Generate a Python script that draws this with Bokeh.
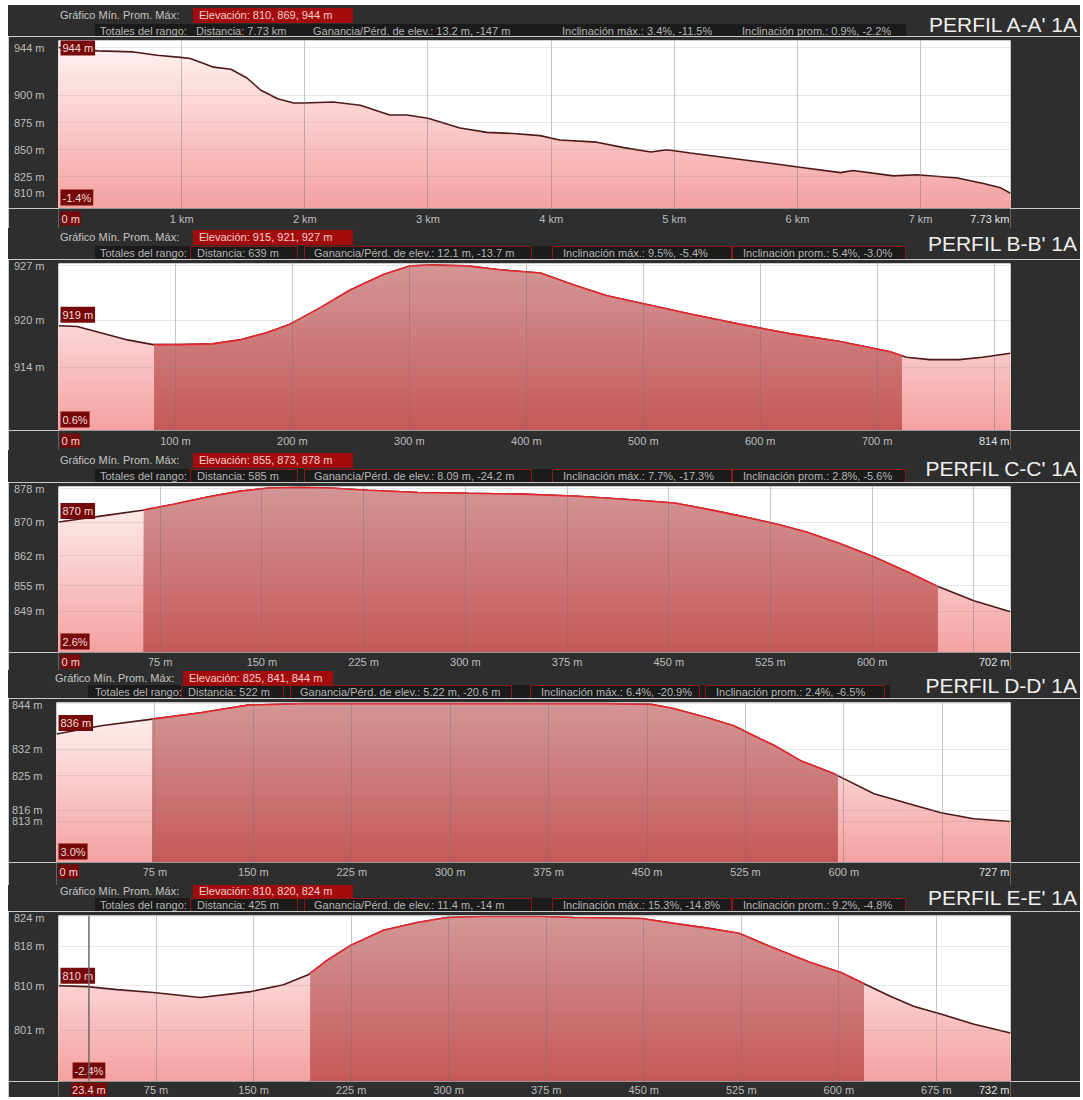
import numpy as np
from bokeh.plotting import figure
from bokeh.models import Range1d, FixedTicker, Label, Span, CustomJSTickFormatter, Div
from bokeh.core.properties import value
from bokeh.layouts import column
from bokeh.embed import file_html
from bokeh.resources import INLINE

FONT = "Liberation Sans"

# ---------------- data ----------------
# Perfil A-A' (distance in km)
a_dist = [0.00, 0.32, 0.61, 0.80, 0.99, 1.07, 1.26, 1.40, 1.53, 1.64, 1.78, 1.91, 1.99,
          2.23, 2.45, 2.69, 2.83, 3.00, 3.26, 3.48, 3.69, 3.91, 4.07, 4.37, 4.59, 4.81,
          4.94, 5.13, 5.54, 5.75, 6.02, 6.35, 6.45, 6.78, 6.97, 7.30, 7.51, 7.65, 7.73]
a_elev = [944, 941, 940, 937, 935, 934, 926, 924, 916, 905, 897, 893, 893,
          894, 891, 882, 882, 879, 870, 866, 865, 863, 859, 857, 852, 848,
          850, 847, 841, 838, 834, 829, 831, 826, 827, 824, 819, 815, 810]
a_yticks = [944, 900, 875, 850, 825, 810]

# Perfil B-B' (distance in m)
b_dist = [0, 16, 36, 59, 81, 104, 132, 155, 178, 198, 224, 249, 278, 301, 320, 349,
          377, 412, 440, 469, 506, 540, 582, 625, 668, 711, 725, 745, 770, 790, 814]
b_elev = [919.3, 919.2, 918.4, 917.5, 916.9, 916.9, 917.0, 917.5, 918.4, 919.5, 921.6,
          923.8, 925.8, 926.9, 927.0, 926.9, 926.4, 926.0, 924.5, 923.1, 921.9, 920.8,
          919.5, 918.3, 917.3, 916.0, 915.3, 915.0, 915.0, 915.3, 915.8]
b_yticks = [927, 920, 914]

# Perfil C-C'
c_dist = [0, 31, 62, 85, 110, 134, 154, 178, 203, 228, 265, 302, 342, 383, 417, 454,
          479, 503, 530, 552, 577, 601, 626, 649, 675, 702]
c_elev = [870, 871.4, 872.8, 874.2, 875.9, 877.3, 878.0, 878.2, 878.0, 877.5, 877.0,
          876.8, 876.6, 876.1, 875.4, 874.5, 873.0, 871.4, 869.5, 867.6, 864.8, 861.8,
          858.2, 854.7, 851.4, 848.8]
c_yticks = [878, 870, 862, 855, 849]

# Perfil D-D'
d_dist = [0, 34, 70, 110, 146, 187, 238, 288, 356, 420, 453, 470, 496, 516, 531, 547,
          567, 592, 598, 623, 649, 674, 699, 727]
d_elev = [836, 838.2, 839.8, 841.6, 843.6, 844, 844, 844, 844, 844, 843.8, 842.7, 840.3,
          838.2, 835.6, 833, 829, 825.6, 824.6, 820.3, 817.7, 815.3, 813.7, 813]
d_yticks = [844, 832, 825, 816, 813]

# Perfil E-E'
e_dist = [0, 22, 45, 73, 109, 148, 173, 192, 207, 225, 250, 276, 299, 327, 357, 371,
          396, 448, 473, 500, 523, 550, 577, 602, 621, 640, 658, 679, 704, 732]
e_elev = [810, 809.8, 809.2, 808.6, 807.6, 808.8, 810.2, 812.2, 815.2, 818.2, 821.2,
          822.8, 823.8, 824, 824, 824, 823.8, 823.6, 822.6, 821.6, 820.6, 817.6, 814.8,
          812.6, 810.2, 807.8, 805.8, 804.2, 802.2, 800.4]
e_yticks = [824, 818, 810, 801]

titles = ["PERFIL A-A' 1A", "PERFIL B-B' 1A", "PERFIL C-C' 1A", "PERFIL D-D' 1A", "PERFIL E-E' 1A"]
elev_stats = ["Elevación: 810, 869, 944 m", "Elevación: 915, 921, 927 m",
              "Elevación: 855, 873, 878 m", "Elevación: 825, 841, 844 m",
              "Elevación: 810, 820, 824 m"]
distance_stats = ["Distancia: 7.73 km", "Distancia: 639 m", "Distancia: 585 m",
                  "Distancia: 522 m", "Distancia: 425 m"]
gain_stats = ["Ganancia/Pérd. de elev.: 13.2 m, -147 m", "Ganancia/Pérd. de elev.: 12.1 m, -13.7 m",
              "Ganancia/Pérd. de elev.: 8.09 m, -24.2 m", "Ganancia/Pérd. de elev.: 5.22 m, -20.6 m",
              "Ganancia/Pérd. de elev.: 11.4 m, -14 m"]
max_slope_stats = ["Inclinación máx.: 3.4%, -11.5%", "Inclinación máx.: 9.5%, -5.4%",
                   "Inclinación máx.: 7.7%, -17.3%", "Inclinación máx.: 6.4%, -20.9%",
                   "Inclinación máx.: 15.3%, -14.8%"]
avg_slope_stats = ["Inclinación prom.: 0.9%, -2.2%", "Inclinación prom.: 5.4%, -3.0%",
                   "Inclinación prom.: 2.8%, -5.6%", "Inclinación prom.: 2.4%, -6.5%",
                   "Inclinación prom.: 9.2%, -4.8%"]
selections = [None, (82, 721), (63, 648), (73, 595), (194, 619)]
cursors = [0, 0, 0, 0, 23.4]
cursor_slopes = ["-1.4%", "0.6%", "2.6%", "3.0%", "-2.4%"]
x_steps = [1, 100, 75, 75, 75]
x_hidden = [[], [800], [675], [675], []]
x_units = ["km", "m", "m", "m", "m"]
y_ranges = [(796, 950.5), (906, 927.2), (839.2, 878.4), (802.2, 844.3), (790.6, 824.2)]

# ---------------- style / layout ----------------
W = 1072
BG = "#2e2e2e"
LIGHT_TOP, LIGHT_BOT = "#fff3f3", "#f5a2a2"
DARK_TOP, DARK_BOT = "#d39595", "#c65a5a"
FSZ = 11
FS = "11px"
BT = 4            # small border above each plot frame
FRAME_RIGHT = 1002
# (header_h, plot_h, footer_h, footer_label_y, border_left, row1_y, row2_y, title_y)
geoms = [(31, 168, 20, 10, 50, 10, 26, 20),
         (31, 167, 20, 10, 50, 9, 25, 16),
         (32, 166, 18, 9, 50, 10, 26, 19),
         (28, 160, 23, 9, 47, 8, 22, 16),
         (26, 166, 16, 8, 50, 6, 20, 13)]
# header item x positions: grafico, elev box (left, width), bar (left, right), totales,
# distance box, gain box, max slope box, avg slope box  (left, width)
hdr_default = dict(graf=52, elev=(185, 160), bar=(87, 897), tot=92,
                   dist=(182, 108), gain=(296, 228), smax=(544, 180), sprom=(724, 174))
hdr_d = dict(graf=47, elev=(175, 150), bar=(80, 882), tot=87,
             dist=(173, 103), gain=(282, 222), smax=(522, 170), sprom=(697, 180))


def mix(c1, c2, t):
    a = [int(c1[i:i + 2], 16) for i in (1, 3, 5)]
    b = [int(c2[i:i + 2], 16) for i in (1, 3, 5)]
    return "#%02x%02x%02x" % tuple(round(a[i] + (b[i] - a[i]) * t) for i in range(3))


def gradient_area(p, x, y, lo, hi, c_top, c_bot, n=24):
    x = np.asarray(x, float)
    y = np.asarray(y, float)
    for k in range(n):
        lev = hi - (hi - lo) * k / n
        p.varea(x=x, y1=np.full_like(y, lo), y2=np.minimum(y, lev),
                fill_color=mix(c_top, c_bot, k / (n - 1)))


def subset(x, y, a, b):
    x = np.asarray(x, float)
    y = np.asarray(y, float)
    m = (x > a) & (x < b)
    xs = np.concatenate([[a], x[m], [b]])
    ys = np.concatenate([[np.interp(a, x, y)], y[m], [np.interp(b, x, y)]])
    return xs, ys


def item(text, cy, left=None, right=None, width=None, h=14, color="#c4c4c4", bg=None,
         border=None, size=FSZ, pad="0 0 0 6px"):
    lh = h - 2 if border else h
    st = (f"position:absolute;top:{cy - h / 2}px;height:{h}px;line-height:{lh}px;"
          f"white-space:nowrap;color:{color};font-size:{size}px;padding:{pad};"
          f"box-sizing:border-box;overflow:hidden;")
    if left is not None:
        st += f"left:{left}px;"
    if right is not None:
        st += f"right:{right}px;"
    if width is not None:
        st += f"width:{width}px;"
    if bg:
        st += f"background:{bg};"
    if border:
        st += f"border:1px solid {border};"
    return f'<div style="{st}">{text}</div>'


def header_div(i, hh, r1, r2, ty):
    H = hdr_d if i == 3 else hdr_default
    rb = None if i == 0 else "#8e1616"
    parts = [
        item("", r2, left=H["bar"][0], width=H["bar"][1] - H["bar"][0], bg="#1b1b1b"),
        item("Gráfico Mín. Prom. Máx:", r1, left=H["graf"], pad="0"),
        item(elev_stats[i], r1, left=H["elev"][0], width=H["elev"][1], bg="#a30c0c",
             color="#f6cccc", h=15),
        item("Totales del rango:", r2, left=H["tot"], pad="0", color="#b4b4b4"),
        item(distance_stats[i], r2, left=H["dist"][0], width=H["dist"][1], bg="#1b1b1b",
             border=rb, color="#b4b4b4"),
        item(gain_stats[i], r2, left=H["gain"][0], width=H["gain"][1], bg="#1b1b1b",
             border=rb, color="#b4b4b4", pad="0 0 0 9px"),
        item(max_slope_stats[i], r2, left=H["smax"][0], width=H["smax"][1], bg="#1b1b1b",
             border=rb, color="#b4b4b4", pad="0 0 0 10px"),
        item(avg_slope_stats[i], r2, left=H["sprom"][0], width=H["sprom"][1], bg="#1b1b1b",
             border=rb, color="#b4b4b4", pad="0 0 0 10px"),
        item(titles[i], ty, right=3, h=24, size=21, color="#efefef", pad="0"),
    ]
    html = (f'<div style="position:relative;width:{W}px;height:{hh}px;background:{BG};'
            f'overflow:hidden;font-family:\'{FONT}\';">' + "".join(parts) + "</div>")
    return Div(text=html, width=W, height=hh, margin=0)


def make_panel(i, dist, elev, yticks):
    hh, ph, fh, fy, left, r1, r2, ty = geoms[i]
    lo, hi = y_ranges[i]
    xmax = dist[-1]
    xr = Range1d(0, xmax)
    common = dict(width=W, output_backend="svg", toolbar_location=None,
                  border_fill_color=BG, outline_line_color=None)

    hd = header_div(i, hh, r1, r2, ty)

    # ---- profile plot ----
    p = figure(height=ph + BT, x_range=xr, y_range=Range1d(lo, hi),
               min_border_left=left, min_border_right=W - FRAME_RIGHT,
               min_border_top=BT, min_border_bottom=0,
               background_fill_color="white", **common)
    gradient_area(p, dist, elev, lo, hi, LIGHT_TOP, LIGHT_BOT)
    p.line(dist, elev, line_color="#4d1818", line_width=1.6)
    sel = selections[i]
    if sel is not None:
        xs, ys = subset(dist, elev, *sel)
        gradient_area(p, xs, ys, lo, hi, DARK_TOP, DARK_BOT)
        p.line(xs, ys, line_color="#e5262c", line_width=1.6)

    step = x_steps[i]
    ticks = [step * k for k in range(1, int(xmax / step) + 1) if step * k < xmax - 1e-9]
    p.xaxis.visible = False
    p.xgrid.ticker = FixedTicker(ticks=ticks)
    p.yaxis.ticker = FixedTicker(ticks=yticks)
    p.yaxis.formatter = CustomJSTickFormatter(code="return tick + ' m';")
    p.yaxis.axis_line_color = None
    p.yaxis.major_tick_line_color = None
    p.yaxis.minor_tick_line_color = None
    p.yaxis.major_tick_out = 0
    p.yaxis.major_tick_in = 0
    p.yaxis.major_label_standoff = 14
    p.yaxis.major_label_text_font = FONT
    p.yaxis.major_label_text_font_size = FS
    p.yaxis.major_label_text_color = "#bdbdbd"
    p.xgrid.grid_line_color = "#707070"
    p.xgrid.grid_line_alpha = 0.4
    p.ygrid.grid_line_color = "#909090"
    p.ygrid.grid_line_alpha = 0.22
    p.xgrid.level = "annotation"
    p.ygrid.level = "annotation"

    cur = cursors[i]
    ce = float(np.interp(cur, dist, elev))
    box = dict(text_font=FONT, text_font_size=FS, text_color="#f3dada",
               background_fill_color="#760909", padding=2)
    if i == 0:
        p.add_layout(Label(x=cur, y=ce, text=f"{ce:.0f} m", text_align="left",
                           text_baseline="middle", x_offset=2, **box))
    else:
        p.add_layout(Label(x=0, y=ce, text=f"{ce:.0f} m", text_align="left",
                           text_baseline="bottom", x_offset=2, y_offset=3, **box))
    align = "center" if cur > 0 else "left"
    off = 2 if cur == 0 else 0
    p.add_layout(Label(x=cur, y=lo, text=cursor_slopes[i], text_align=align,
                       text_baseline="bottom", x_offset=off, y_offset=3, **box))
    if cur > 0:
        p.add_layout(Span(location=cur, dimension="height", line_color="#6a6a6a",
                          line_width=1.5))

    # ---- footer strip with distance labels ----
    f = figure(height=fh, x_range=xr, y_range=Range1d(fh, 0),
               min_border_left=left, min_border_right=W - FRAME_RIGHT,
               min_border_top=0, min_border_bottom=0,
               x_axis_type=None, y_axis_type=None, background_fill_color=BG, **common)
    shown = [t for t in ticks if t not in x_hidden[i]]
    f.text(x=shown, y=[fy] * len(shown), text=[f"{t} {x_units[i]}" for t in shown],
           text_font=value(FONT), text_font_size=FS, text_color="#bdbdbd",
           text_align="center", text_baseline="middle")
    xtxt = f"{cur:.0f} m" if cur == 0 else f"{cur} m"
    fbox = dict(box, padding=1)
    f.add_layout(Label(x=cur, y=fy, text=xtxt, text_align=align, text_baseline="middle",
                       x_offset=off, **fbox))
    end_txt = f"{xmax:.2f} km" if x_units[i] == "km" else f"{xmax:.0f} m"
    f.add_layout(Label(x=xmax, y=fy, text=end_txt, text_align="right",
                       text_baseline="middle", x_offset=-1, text_font=FONT,
                       text_font_size=FS, text_color="#e2e2e2"))
    return column(hd, p, f, spacing=0)


panels = [make_panel(0, a_dist, a_elev, a_yticks),
          make_panel(1, b_dist, b_elev, b_yticks),
          make_panel(2, c_dist, c_elev, c_yticks),
          make_panel(3, d_dist, d_elev, d_yticks),
          make_panel(4, e_dist, e_elev, e_yticks)]

layout = column(*panels, spacing=0, margin=(5, 0, 0, 8))
open("out.html", "w", encoding="utf-8").write(file_html(layout, INLINE))
